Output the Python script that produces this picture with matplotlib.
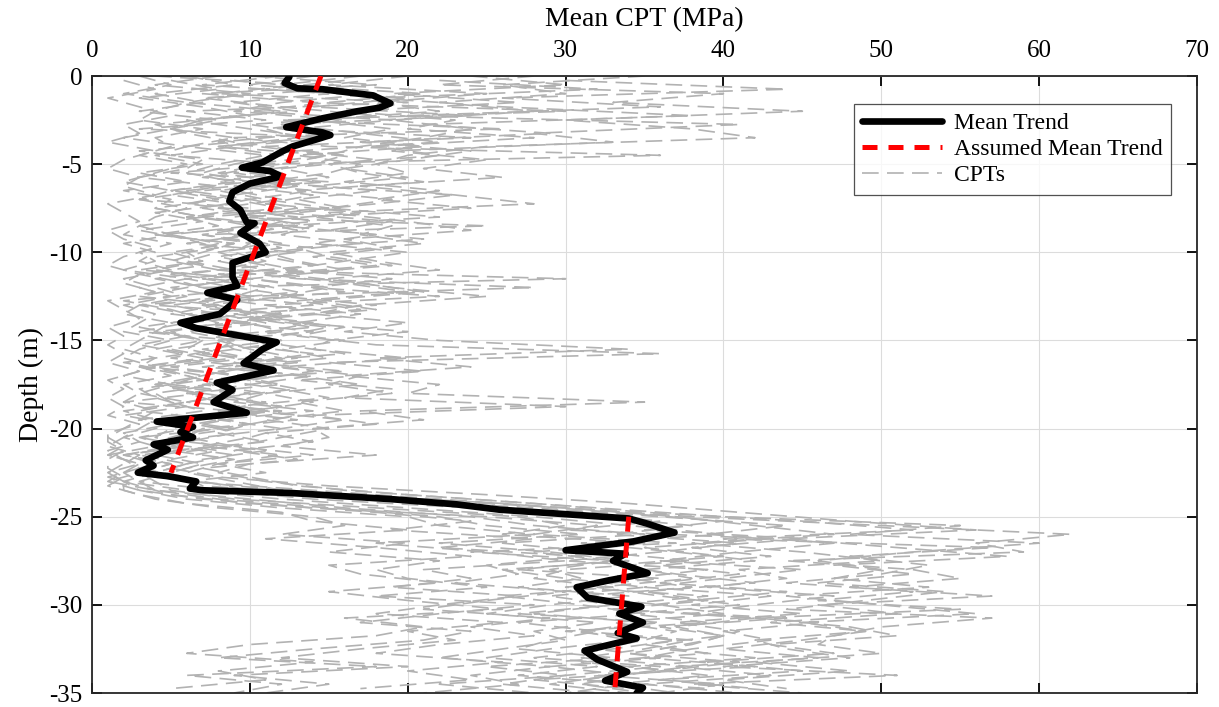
import numpy as np
import matplotlib.pyplot as plt

plt.rcParams['font.family'] = ['Liberation Serif', 'DejaVu Serif']
plt.rcParams['axes.unicode_minus'] = False

# depth grids of the CPT soundings (m)
depth = np.arange(0, -35.5, -0.5)
depth_mid = np.arange(-0.25, -35.0, -0.5)

# cone resistance (MPa) of the soundings logged on the 0.5 m grid
cpt_a = [3, 5, 2, 6, 4, 3, 7, 4, 5, 3, 6,
         4, 2, 5, 3, 6, 4, 3, 5, 2, 4,
         3, 5, 2, 4, 6, 3, 2, 5, 4, 3,
         2, 4, 3, 5, 2, 3, 6, 2, 4, 3,
         2, 1, 3, 2, 1, 2,
         3, 6, 12, 20,
         22, 28, 18, 25, 30, 21,
         24, 19, 27, 22, 18, 26, 20, 23,
         17, 12, 20, 9, 15, 11]
cpt_b = [8, 4, 10, 6, 12, 7, 5, 9, 6, 11, 8,
         6, 9, 5, 8, 4, 7, 10, 5, 8, 6,
         7, 4, 9, 6, 3, 8, 5, 10, 4, 7,
         6, 9, 4, 7, 5, 10, 6, 3, 8, 5,
         4, 6, 2, 5, 3, 4,
         5, 9, 18, 27,
         30, 26, 35, 28, 33, 29,
         31, 27, 34, 29, 25, 32, 28, 30,
         26, 22, 29, 24, 27, 21]
cpt_c = [14, 10, 18, 12, 9, 16, 11, 13, 8, 15, 10,
         12, 8, 14, 10, 7, 11, 13, 9, 12, 8,
         10, 13, 7, 11, 9, 14, 6, 10, 12, 8,
         9, 12, 7, 14, 10, 6, 11, 8, 13, 7,
         6, 9, 4, 7, 5, 3,
         8, 14, 24, 32,
         38, 33, 41, 36, 30, 39,
         34, 38, 31, 36, 40, 33, 37, 35,
         32, 36, 29, 34, 31, 35]
cpt_d = [20, 15, 25, 18, 22, 14, 19, 16, 21, 13, 17,
         15, 11, 18, 13, 16, 10, 14, 12, 17, 11,
         13, 16, 10, 15, 12, 18, 9, 14, 11, 16,
         12, 15, 9, 13, 17, 11, 14, 10, 16, 12,
         10, 7, 12, 8, 6, 9,
         12, 18, 28, 36,
         44, 39, 47, 41, 36, 45,
         40, 35, 43, 38, 45, 37, 41, 39,
         36, 42, 34, 39, 33, 37]
cpt_e = [28, 22, 40, 33, 45, 30, 38, 42, 25, 20, 18,
         20, 16, 22, 18, 24, 14, 19, 17, 21, 15,
         18, 22, 15, 19, 25, 17, 14, 20, 16, 22,
         34, 18, 24, 16, 22, 20, 35, 17, 21, 14,
         15, 12, 18, 10, 8, 11,
         16, 24, 32, 40,
         55, 48, 60, 52, 46, 50,
         47, 53, 44, 50, 56, 45, 49, 42,
         44, 48, 40, 51, 38, 45]
cpt_f = [35, 26, 30, 22, 28, 19, 24, 21, 17, 15, 12,
         10, 14, 9, 12, 8, 13, 11, 7, 10, 9,
         11, 8, 13, 28, 10, 7, 12, 9, 14, 8,
         10, 13, 8, 12, 7, 11, 9, 14, 8, 12,
         7, 5, 9, 6, 4, 7,
         10, 20, 30, 38,
         50, 62, 56, 59, 44, 52,
         55, 48, 57, 46, 51, 43, 49, 45,
         40, 46, 37, 43, 35, 41]
cpt_g = [6, 9, 4, 7, 3, 8, 5, 2, 6, 4, 7,
         3, 6, 2, 5, 4, 7, 3, 2, 5, 3,
         4, 2, 6, 3, 5, 2, 4, 3, 2, 5,
         3, 2, 4, 2, 5, 3, 2, 4, 3, 2,
         1, 2, 1, 3, 1, 2,
         2, 4, 8, 14,
         16, 12, 20, 15, 22, 18,
         20, 25, 18, 28, 22, 17, 24, 21,
         14, 8, 18, 6, 12, 9]
cpt_h = [17, 12, 21, 15, 10, 19, 13, 24, 11, 16, 14,
         9, 13, 8, 11, 15, 7, 12, 10, 6, 13,
         8, 11, 6, 9, 13, 7, 10, 5, 9, 12,
         7, 10, 5, 9, 12, 6, 8, 11, 5, 9,
         5, 8, 3, 6, 4, 2,
         6, 12, 20, 28,
         34, 40, 31, 37, 42, 35,
         38, 32, 36, 41, 34, 39, 30, 37,
         33, 28, 36, 30, 26, 32]
cpt_i = [10, 18, 7, 14, 30, 12, 26, 9, 15, 36, 11,
         8, 12, 6, 10, 13, 9, 25, 7, 11, 8,
         6, 9, 30, 7, 10, 5, 8, 11, 6, 9,
         8, 5, 10, 7, 4, 9, 6, 12, 5, 8,
         3, 6, 2, 5, 3, 1,
         4, 10, 16, 24,
         28, 35, 26, 32, 38, 30,
         28, 33, 26, 31, 35, 27, 32, 29,
         27, 33, 25, 30, 22, 28]
cpt_j = [24, 30, 19, 27, 16, 23, 20, 28, 18, 22, 15,
         17, 21, 13, 19, 15, 22, 12, 18, 14, 20,
         16, 12, 19, 14, 22, 11, 17, 13, 20, 15,
         14, 20, 12, 17, 15, 19, 13, 16, 11, 15,
         12, 9, 14, 8, 11, 6,
         14, 22, 30, 37,
         42, 47, 38, 45, 50, 41,
         44, 39, 47, 42, 38, 46, 40, 43,
         38, 35, 42, 32, 40, 36]
cpt_k = [12, 7, 15, 9, 13, 6, 10, 14, 8, 12, 9,
         7, 10, 5, 9, 12, 6, 8, 4, 9, 7,
         5, 8, 4, 7, 9, 3, 6, 8, 5, 7,
         4, 7, 3, 6, 8, 4, 5, 7, 3, 6,
         3, 5, 2, 4, 2, 3,
         4, 8, 15, 22,
         25, 31, 22, 29, 34, 26,
         30, 35, 29, 33, 27, 36, 31, 34,
         29, 25, 32, 27, 34, 30]
cpt_l = [4, 13, 8, 20, 6, 11, 3, 15, 9, 5, 12,
         5, 15, 7, 3, 10, 6, 12, 4, 9, 5,
         7, 3, 10, 5, 8, 4, 12, 6, 3, 9,
         5, 8, 3, 10, 4, 7, 2, 9, 6, 4,
         2, 4, 1, 3, 2, 1,
         3, 7, 14, 25,
         32, 28, 37, 24, 33, 27,
         36, 30, 39, 33, 28, 35, 31, 38,
         35, 31, 38, 33, 29, 34]

# soundings logged on the offset grid
cpt_m = [2, 4, 1, 3, 5, 2, 3, 1, 4, 2,
         1, 3, 2, 4, 1, 2, 3, 1, 2, 4,
         2, 1, 3, 2, 4, 1, 2, 3, 1, 2,
         1, 2, 1, 3, 1, 2, 1, 2, 1, 3,
         1, 1, 2, 1, 1, 2,
         1, 3, 6, 12,
         14, 20, 11, 18, 24, 15,
         17, 22, 15, 20, 26, 16, 21, 18,
         10, 6, 14, 8, 11, 5]
cpt_n = [9, 15, 7, 12, 18, 10, 14, 8, 13, 11,
         10, 7, 13, 9, 6, 11, 14, 8, 10, 12,
         8, 11, 5, 10, 13, 7, 9, 12, 6, 10,
         11, 7, 13, 8, 10, 5, 9, 12, 7, 10,
         6, 4, 8, 5, 3, 6,
         7, 15, 22, 30,
         36, 30, 43, 35, 40, 33,
         37, 42, 35, 39, 33, 44, 36, 40,
         35, 39, 31, 37, 28, 34]
cpt_o = [22, 32, 18, 26, 38, 21, 29, 17, 24, 20,
         16, 20, 14, 23, 18, 12, 19, 15, 21, 13,
         15, 19, 12, 17, 21, 14, 18, 11, 16, 13,
         18, 36, 15, 21, 13, 19, 16, 30, 14, 18,
         11, 14, 9, 13, 7, 10,
         13, 20, 28, 35,
         45, 52, 40, 57, 48, 53,
         50, 44, 52, 46, 55, 42, 48, 51,
         43, 47, 39, 45, 36, 42]
cpt_p = [5, 8, 3, 7, 10, 4, 6, 9, 3, 7,
         6, 3, 8, 5, 9, 4, 7, 3, 6, 8,
         4, 7, 3, 6, 8, 2, 5, 7, 3, 6,
         3, 6, 2, 5, 7, 3, 4, 6, 2, 5,
         2, 3, 1, 2, 3, 1,
         3, 5, 10, 18,
         24, 19, 28, 22, 31, 25,
         27, 23, 30, 25, 21, 29, 24, 28,
         22, 18, 26, 20, 24, 17]
cpt_q = [16, 11, 20, 14, 24, 12, 17, 22, 13, 18,
         12, 15, 9, 14, 11, 17, 10, 13, 8, 14,
         11, 14, 8, 12, 16, 9, 13, 10, 14, 8,
         9, 14, 10, 16, 8, 12, 15, 9, 13, 10,
         8, 11, 5, 9, 6, 4,
         9, 16, 26, 33,
         40, 35, 45, 38, 43, 36,
         41, 36, 44, 38, 33, 42, 37, 40,
         38, 34, 41, 36, 31, 39]
cpt_r = [30, 44, 26, 36, 20, 41, 28, 33, 19, 25,
         21, 26, 17, 23, 28, 15, 20, 24, 16, 19,
         14, 18, 11, 16, 20, 13, 17, 10, 15, 12,
         12, 16, 9, 14, 10, 13, 8, 12, 10, 7,
         9, 6, 11, 7, 5, 8,
         15, 25, 34, 41,
         48, 56, 44, 51, 58, 47,
         52, 46, 54, 49, 44, 57, 50, 47,
         46, 50, 42, 48, 40, 44]

cpts_full = [cpt_a, cpt_b, cpt_c, cpt_d, cpt_e, cpt_f,
             cpt_g, cpt_h, cpt_i, cpt_j, cpt_k, cpt_l]
cpts_mid = [cpt_m, cpt_n, cpt_o, cpt_p, cpt_q, cpt_r]

# mean trend of the soundings
mean_q = [12.5, 12.2, 13.0, 14.6, 17.8, 18.9, 18.2, 16.8, 14.6, 12.3,
          14.6, 15.1, 14.2, 12.7, 12.0, 10.8, 9.5, 11.3, 12.0, 10.0,
          8.9, 8.7, 9.4, 9.8, 10.3, 9.4, 10.6, 11.0, 8.9, 8.9,
          9.2, 7.3, 9.2, 8.1, 5.6, 6.6, 11.7, 10.8, 9.6, 11.5,
          7.9, 8.9, 7.7, 9.8, 4.1, 6.4, 5.6, 6.4, 3.9, 4.8,
          3.4, 3.9, 2.9, 4.8, 6.6, 6.2, 7.0, 12.5, 18.9, 23.1,
          25.8, 34.0, 35.2, 36.9, 34.3, 30.0, 33.8, 33.0, 35.2, 32.8,
          30.7, 31.4, 34.8, 33.4, 34.9, 33.3, 34.5, 31.2, 32.0, 33.9,
          32.5, 34.9, 34.5]
mean_z = [-0.05, -0.4, -0.7, -0.75, -1.1, -1.55, -1.8, -2.0, -2.4, -2.9,
          -3.2, -3.35, -3.6, -4.0, -4.3, -4.9, -5.2, -5.4, -5.7, -6.1,
          -6.6, -7.1, -7.6, -8.3, -8.35, -8.9, -9.5, -10.0, -10.6, -11.4,
          -11.9, -12.3, -12.7, -13.5, -14.0, -14.3, -15.1, -15.5, -16.3, -16.7,
          -17.4, -17.8, -18.5, -19.1, -19.6, -19.9, -20.2, -20.5, -20.9, -21.2,
          -21.8, -22.1, -22.5, -22.7, -23.0, -23.4, -23.5, -23.65, -24.0, -24.3,
          -24.6, -25.1, -25.4, -25.9, -26.4, -26.9, -27.1, -27.5, -28.2, -28.6,
          -29.0, -29.6, -30.1, -30.5, -31.0, -31.6, -31.9, -32.6, -33.1, -33.8,
          -34.3, -34.7, -35.0]

# assumed (linear) mean trend, two layers
upper_q = [14.5, 5.0]
upper_z = [0.0, -22.5]
lower_q = [34.0, 33.1]
lower_z = [-25.0, -35.0]

fig = plt.figure(figsize=(12.19, 7.07), dpi=100)
ax = fig.add_axes([0.0755, 0.0198, 0.9065, 0.8727])

grey = dict(color='#b2b2b2', lw=1.2, dashes=(10, 5), zorder=2)
for i, q in enumerate(cpts_full):
    ax.plot(q, depth, label='CPTs' if i == 0 else None, **grey)
for q in cpts_mid:
    ax.plot(q, depth_mid, **grey)

ax.plot(mean_q, mean_z, color='black', lw=4.8, label='Mean Trend',
        solid_joinstyle='round', solid_capstyle='round', zorder=3)
ax.plot(upper_q, upper_z, color='red', lw=3.6, dashes=(3, 2.2),
        label='Assumed Mean Trend', zorder=4)
ax.plot(lower_q, lower_z, color='red', lw=3.6, dashes=(3, 2.2), zorder=4)

ax.set_xlim(0, 70)
ax.set_ylim(-35, 0)
ax.set_xticks(np.arange(0, 71, 10))
ax.set_yticks(np.arange(-35, 1, 5))
ax.xaxis.tick_top()
ax.xaxis.set_label_position('top')
ax.tick_params(axis='both', direction='in', length=7, width=1.3,
               labelsize=18, top=True, bottom=True, left=True, right=True)
ax.tick_params(axis='x', pad=10)
ax.tick_params(axis='y', pad=7)
for s in ax.spines.values():
    s.set_linewidth(1.3)
    s.set_color('#262626')
ax.grid(True, color='#dcdcdc', lw=0.8)
ax.set_axisbelow(True)
ax.set_xlabel('Mean CPT (MPa)', fontsize=20, labelpad=10)
ax.set_ylabel('Depth (m)', fontsize=20, labelpad=4)

handles, labels = ax.get_legend_handles_labels()
order = [labels.index(n) for n in ['Mean Trend', 'Assumed Mean Trend', 'CPTs']]
leg = ax.legend([handles[k] for k in order], [labels[k] for k in order],
                loc='upper right', bbox_to_anchor=(0.9765, 0.9546),
                borderaxespad=0, fontsize=17, frameon=True, fancybox=False,
                edgecolor='#262626', handlelength=3.4, handletextpad=0.5,
                borderpad=0.35, labelspacing=0.2)
leg.get_frame().set_linewidth(0.9)

fig.savefig('out.png', dpi=100)
